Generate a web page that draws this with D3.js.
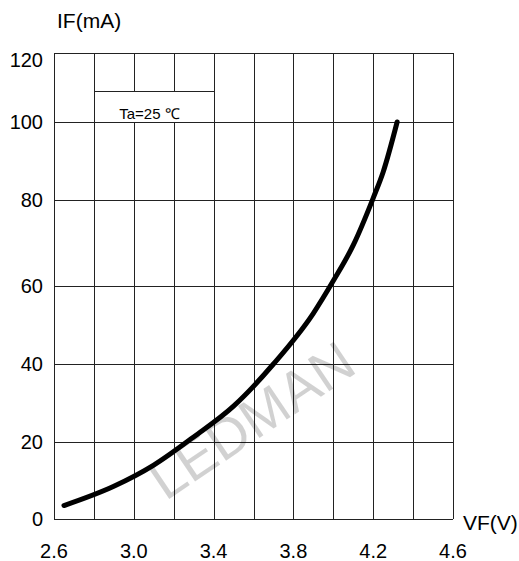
<!DOCTYPE html>
<html>
<head>
<meta charset="utf-8">
<script src="https://cdn.jsdelivr.net/npm/d3@7/dist/d3.min.js"></script>
<style>
  html, body { margin: 0; padding: 0; background: #fff; }
  svg { display: block; }
  text { font-family: "Liberation Sans", Arial, sans-serif; fill: #000; }
</style>
</head>
<body>
<svg id="chart" width="519" height="561"></svg>
<script>
// ---- data ----
const vf = [2.65, 2.9, 3.1, 3.3, 3.5, 3.7, 3.9, 4.0, 4.1, 4.2, 4.25, 4.32];
const ifmA = [3.5, 8.5, 14, 21.3, 29.2, 40, 53, 61.2, 69.5, 80.5, 87.2, 100];
const xGrid = [2.6, 2.8, 3.0, 3.2, 3.4, 3.6, 3.8, 4.0, 4.2, 4.4, 4.6];
const xTickLabels = ["2.6", "3.0", "3.4", "3.8", "4.2", "4.6"];
const yTicks = [0, 20, 40, 60, 80, 100, 120];
const xTitle = "VF(V)";
const yTitle = "IF(mA)";
const noteText = "Ta=25 \u2103";
const watermark = "LEDMAN";

// ---- layout ----
const svg = d3.select("#chart");
const x = d3.scaleLinear().domain([2.6, 4.6]).range([54, 453]);
// the printed chart's grid is slightly uneven; piecewise scale follows it
const y = d3.scaleLinear().domain(yTicks).range([519, 442, 364, 286, 200, 122, 53]);

const px = v => Math.round(v) + 0.5;

// grid
const grid = svg.append("g").attr("stroke", "#222").attr("stroke-width", 1);
grid.selectAll("line.v").data(xGrid).enter().append("line")
  .attr("x1", d => px(x(d))).attr("x2", d => px(x(d)))
  .attr("y1", y(120)).attr("y2", y(0));
grid.selectAll("line.h").data(yTicks).enter().append("line")
  .attr("x1", x(2.6)).attr("x2", x(4.6))
  .attr("y1", d => px(y(d))).attr("y2", d => px(y(d)));

// note box (Ta=25℃) - covers grid lines inside
const bx0 = px(x(2.8)), bx1 = px(x(3.4));
const by0 = px(y(100) - (y(100) - y(120)) * 0.45), by1 = px(y(100));
svg.append("rect").attr("x", bx0 + 0.5).attr("y", by0 + 0.5)
  .attr("width", bx1 - bx0 - 1).attr("height", by1 - by0 - 1).attr("fill", "#fff");
svg.append("line").attr("x1", bx0).attr("x2", bx1).attr("y1", by0).attr("y2", by0)
  .attr("stroke", "#222").attr("stroke-width", 1);
svg.append("text").attr("x", (bx0 + bx1) / 2 - 5).attr("y", by1 - 4)
  .attr("text-anchor", "middle").attr("font-size", 15).text(noteText);

// watermark
svg.append("text")
  .attr("transform", `translate(254,424) rotate(-34)`)
  .attr("text-anchor", "middle").attr("dominant-baseline", "middle")
  .attr("font-size", 56).style("fill", "#000").attr("fill-opacity", 0.18)
  .text(watermark);

// curve
const line = d3.line().x((d, i) => x(vf[i])).y(d => y(d)).curve(d3.curveMonotoneX);
svg.append("path").datum(ifmA).attr("d", line)
  .attr("fill", "none").attr("stroke", "#000").attr("stroke-width", 5)
  .attr("stroke-linecap", "round").attr("stroke-linejoin", "round");

// y tick labels
svg.selectAll("text.yt").data(yTicks).enter().append("text")
  .attr("class", "yt")
  .attr("x", 43).attr("y", d => y(d) + (d === 120 ? 14 : 7))
  .attr("text-anchor", "end").attr("font-size", 20).text(d => d);

// x tick labels
svg.selectAll("text.xt").data(xTickLabels).enter().append("text")
  .attr("class", "xt")
  .attr("x", d => x(+d)).attr("y", 558)
  .attr("text-anchor", "middle").attr("font-size", 20).text(d => d);

// axis titles
svg.append("text").attr("x", 57).attr("y", 28).attr("font-size", 21).text(yTitle);
svg.append("text").attr("x", 463).attr("y", 530).attr("font-size", 21).text(xTitle);
</script>
</body>
</html>
